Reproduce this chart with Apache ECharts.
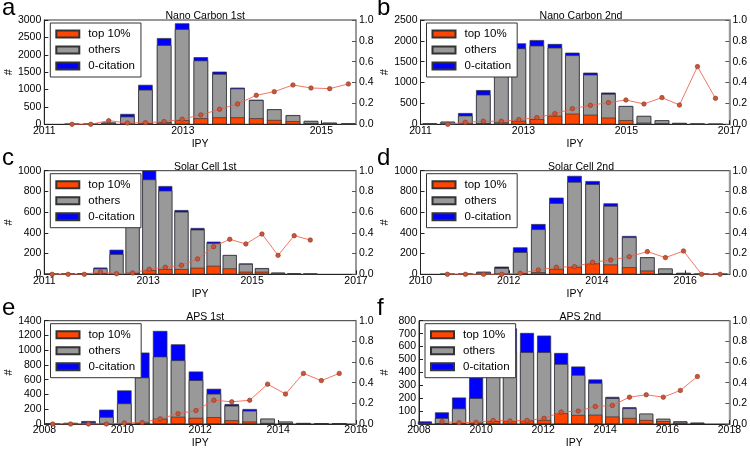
<!DOCTYPE html>
<html><head><meta charset="utf-8">
<script src="https://cdn.jsdelivr.net/npm/echarts@6/dist/echarts.min.js"></script>
<style>html,body{margin:0;padding:0;background:#fff}#c{width:750px;height:450px}</style>
</head><body><div id="c"></div>
<script>
// ---------- DATA ----------
const seriesNames = ['top 10%', 'others', '0-citation'];

// a: Nano Carbon 1st
const aX      = [2011.40, 2011.67, 2011.93, 2012.20, 2012.46, 2012.73, 2012.99, 2013.26, 2013.53, 2013.79, 2014.06, 2014.32, 2014.59, 2014.85, 2015.12, 2015.39];
const aTop    = [0, 0, 2, 3, 15, 60, 120, 175, 200, 200, 175, 125, 90, 35, 12, 5];
const aOthers = [0, 2, 45, 220, 980, 2220, 2620, 1660, 1250, 830, 520, 305, 170, 60, 33, 12];
const aZero   = [0, 0, 5, 75, 140, 200, 165, 95, 65, 25, 12, 5, 5, 3, 2, 1];
const aRatio  = [0, 0, 0.035, 0.013, 0.016, 0.026, 0.048, 0.09, 0.144, 0.195, 0.278, 0.313, 0.377, 0.348, 0.342, 0.387];
const aXTicks = [2011, 2013, 2015];

// b: Nano Carbon 2nd
const bX      = [2011.18, 2011.53, 2011.87, 2012.22, 2012.57, 2012.91, 2013.26, 2013.61, 2013.95, 2014.30, 2014.65, 2014.99, 2015.34, 2015.69, 2016.03, 2016.38, 2016.73];
const bTop    = [0, 2, 8, 25, 45, 85, 125, 205, 255, 230, 160, 100, 40, 20, 5, 3, 0];
const bOthers = [14, 58, 200, 685, 1280, 1735, 1760, 1630, 1400, 960, 570, 335, 160, 76, 27, 5, 1];
const bZero   = [1, 3, 62, 110, 75, 120, 135, 90, 62, 48, 30, 5, 0, 0, 0, 0, 0];
const bRatio  = [null, 0, 0.019, 0.029, 0.029, 0.045, 0.064, 0.102, 0.15, 0.182, 0.208, 0.233, 0.195, 0.256, 0.185, 0.553, 0.249];
const bXTicks = [2011, 2013, 2015, 2017];

// c: Solar Cell 1st
const cX      = [2011.15, 2011.46, 2011.77, 2012.08, 2012.39, 2012.70, 2013.02, 2013.33, 2013.64, 2013.95, 2014.26, 2014.57, 2014.88, 2015.19, 2015.50, 2015.81, 2016.12];
const cTop    = [0, 0, 1, 2, 3, 15, 41, 51, 51, 63, 82, 57, 25, 25, 3, 2, 1];
const cOthers = [1, 3, 6, 54, 192, 735, 875, 756, 553, 368, 220, 129, 75, 32, 13, 4, 2];
const cZero   = [0, 0, 1, 9, 42, 50, 84, 45, 16, 16, 13, 0, 5, 3, 0, 0, 0];
const cRatio  = [0, 0, 0, 0.023, 0.006, 0.013, 0.048, 0.068, 0.087, 0.148, 0.267, 0.338, 0.293, 0.389, 0.183, 0.373, 0.331];
const cXTicks = [2011, 2013, 2015, 2017];

// d: Solar Cell 2nd
const dX      = [2010.61, 2011.02, 2011.43, 2011.84, 2012.26, 2012.67, 2013.08, 2013.49, 2013.90, 2014.31, 2014.73, 2015.14, 2015.55, 2015.96, 2016.37, 2016.79];
const dTop    = [0, 0, 1, 1, 4, 20, 52, 72, 105, 95, 68, 36, 9, 3, 0, 0];
const dOthers = [0, 1, 21, 60, 210, 415, 635, 820, 765, 565, 290, 127, 46, 10, 1, 0];
const dZero   = [0, 0, 3, 13, 46, 50, 53, 58, 30, 25, 12, 2, 0, 0, 0, 0];
const dRatio  = [0, 0, 0, 0, 0.01, 0.042, 0.068, 0.074, 0.116, 0.138, 0.17, 0.219, 0.161, 0.225, 0, 0];
const dXTicks = [2010, 2012, 2014, 2016];

// e: APS 1st
const eX      = [2008.21, 2008.67, 2009.13, 2009.59, 2010.05, 2010.51, 2010.97, 2011.43, 2011.89, 2012.35, 2012.81, 2013.27, 2013.73, 2014.19, 2014.65, 2015.11, 2015.57];
const eTop    = [0, 0, 0, 2, 5, 20, 72, 98, 84, 93, 51, 33, 14, 7, 4, 2, 1];
const eOthers = [0, 13, 22, 93, 274, 610, 842, 766, 510, 317, 197, 147, 58, 25, 8, 6, 3];
const eZero   = [0, 2, 18, 99, 176, 338, 347, 216, 117, 67, 22, 23, 0, 0, 2, 0, 0];
const eRatio  = [0, 0, 0, 0, 0.01, 0.014, 0.05, 0.1, 0.13, 0.23, 0.215, 0.23, 0.386, 0.29, 0.49, 0.42, 0.49];
const eXTicks = [2008, 2010, 2012, 2014, 2016];

// f: APS 2nd
const fX      = [2008.19, 2008.74, 2009.29, 2009.84, 2010.39, 2010.93, 2011.48, 2012.03, 2012.58, 2013.13, 2013.68, 2014.23, 2014.78, 2015.32, 2015.87, 2016.42, 2016.97];
const fTop    = [2, 2, 3, 11, 22, 22, 28, 31, 83, 70, 72, 58, 47, 31, 22, 11, 5];
const fOthers = [8, 44, 117, 189, 438, 534, 528, 525, 382, 310, 246, 142, 75, 49, 18, 9, 5];
const fZero   = [10, 44, 85, 160, 230, 184, 149, 129, 85, 65, 27, 10, 8, 0, 0, 0, 0];
const fRatio  = [null, 0.023, 0.013, 0.016, 0.035, 0.029, 0.035, 0.055, 0.116, 0.125, 0.17, 0.18, 0.26, 0.283, 0.26, 0.325, 0.46];
const fXTicks = [2008, 2010, 2012, 2014, 2016, 2018];

// ---------- LAYOUT ----------
const FONT = '"Liberation Sans", Arial, sans-serif';
const panels = [
  {letter:'a', title:'Nano Carbon 1st', x:aX, top:aTop, others:aOthers, zero:aZero, ratio:aRatio, xt:aXTicks, xMin:2011, xMax:2015.5, yMax:3000, yStep:500,
   L:44.3, T:20, W:311.7, H:104.3, bw:14.5},
  {letter:'b', title:'Nano Carbon 2nd', x:bX, top:bTop, others:bOthers, zero:bZero, ratio:bRatio, xt:bXTicks, xMin:2011, xMax:2017, yMax:2500, yStep:500,
   L:420.5, T:20, W:311, H:104.3, bw:14.5},
  {letter:'c', title:'Solar Cell 1st', x:cX, top:cTop, others:cOthers, zero:cZero, ratio:cRatio, xt:cXTicks, xMin:2011, xMax:2017, yMax:1000, yStep:200,
   L:44.3, T:170.7, W:311.7, H:103.6, bw:14},
  {letter:'d', title:'Solar Cell 2nd', x:dX, top:dTop, others:dOthers, zero:dZero, ratio:dRatio, xt:dXTicks, xMin:2010, xMax:2017, yMax:1000, yStep:200,
   L:420.5, T:170.7, W:311, H:103.6, bw:14.5},
  {letter:'e', title:'APS 1st', x:eX, top:eTop, others:eOthers, zero:eZero, ratio:eRatio, xt:eXTicks, xMin:2008, xMax:2016, yMax:1400, yStep:200,
   L:44.5, T:320.7, W:311.5, H:103.6, bw:14.5},
  {letter:'f', title:'APS 2nd', x:fX, top:fTop, others:fOthers, zero:fZero, ratio:fRatio, xt:fXTicks, xMin:2008, xMax:2018, yMax:800, yStep:100,
   L:419, T:320.7, W:312.5, H:103.6, bw:14}
];

const colors = ['#ff4500', '#999999', '#0000ff'];
const grid = [], xAxis = [], yAxis = [], series = [], legend = [], title = [], graphic = [];
const lbl = {fontFamily: FONT, fontSize: 10.5, color: '#000'};

panels.forEach((p, i) => {
  grid.push({left: p.L, top: p.T, width: p.W, height: p.H, show: true, borderColor: '#333', borderWidth: 1, backgroundColor: 'transparent'});
  xAxis.push({type: 'value', gridIndex: i, min: p.xMin, max: p.xMax,
    name: 'IPY', nameLocation: 'middle', nameGap: 14, nameTextStyle: {fontFamily: FONT, fontSize: 10.5, color: '#000'},
    axisLine: {show: true, onZero: false, lineStyle: {color: '#222', width: 1}},
    axisTick: {show: true, inside: true, length: 4, customValues: p.xt, lineStyle: {color: '#222'}},
    axisLabel: Object.assign({customValues: p.xt, margin: 1, formatter: v => String(v)}, lbl),
    splitLine: {show: false}});
  yAxis.push({type: 'value', gridIndex: i, min: 0, max: p.yMax, interval: p.yStep, position: 'left',
    name: '#', nameLocation: 'middle', nameGap: 29, nameRotate: 90, nameTextStyle: {fontFamily: FONT, fontSize: 11, color: '#000'},
    axisLine: {show: true, lineStyle: {color: '#222', width: 1}},
    axisTick: {show: true, inside: true, length: 4, lineStyle: {color: '#222'}},
    axisLabel: Object.assign({margin: 3, formatter: v => String(v)}, lbl),
    splitLine: {show: false}});
  yAxis.push({type: 'value', gridIndex: i, min: 0, max: 1, interval: 0.2, position: 'right',
    axisLine: {show: true, lineStyle: {color: '#9a9a9a', width: 2}},
    axisTick: {show: true, inside: true, length: 4, lineStyle: {color: '#555'}},
    axisLabel: Object.assign({margin: 3, formatter: v => v.toFixed(1)}, lbl),
    splitLine: {show: false}});
  // cumulative heights for the stacked look (drawn back to front, overlapping)
  const lvl1 = p.top;
  const lvl2 = p.top.map((v, j) => v + p.others[j]);
  const lvl3 = lvl2.map((v, j) => v + p.zero[j]);
  const levels = [lvl1, lvl2, lvl3];
  [2, 1, 0].forEach(k => {
    series.push({type: 'bar', name: seriesNames[k], xAxisIndex: i, yAxisIndex: 2 * i,
      barWidth: p.bw, barGap: '-100%', data: p.x.map((v, j) => [v, levels[k][j]]),
      itemStyle: {color: colors[k], borderColor: '#333', borderWidth: 0.7},
      z: 2 + (2 - k) * 0.1, emphasis: {disabled: true}, animation: false});
  });
  const pts = [];
  p.x.forEach((v, j) => { if (p.ratio[j] !== null) pts.push([v, p.ratio[j]]); });
  series.push({type: 'line', name: 'ratio', xAxisIndex: i, yAxisIndex: 2 * i + 1, data: pts,
    symbol: 'circle', symbolSize: 4.5, showAllSymbol: true,
    lineStyle: {color: 'rgba(238,95,70,0.85)', width: 1},
    itemStyle: {color: '#c9563a', borderColor: '#8c3522', borderWidth: 0.6},
    z: 5, animation: false, emphasis: {disabled: true}});
  legend.push({data: seriesNames, orient: 'vertical', left: p.L + 6, top: p.T + 3,
    itemWidth: 23, itemHeight: 7, itemGap: 4, icon: 'rect',
    padding: [5, 6, 5, 5], borderColor: '#333', borderWidth: 1, backgroundColor: '#fff',
    textStyle: {fontFamily: FONT, fontSize: 11.5, color: '#000', padding: [0, 0, 0, 4]},
    selectedMode: false, z: 10});
  title.push({text: p.title, left: p.L + p.W / 2, top: p.T - 14, textAlign: 'center',
    textStyle: {fontFamily: FONT, fontSize: 10.5, fontWeight: 'normal', color: '#000'}});
  graphic.push({type: 'text', x: (i % 2 === 0) ? 2 : 377, y: p.T - 12,
    style: {text: p.letter, font: '24px "Liberation Sans", Arial, sans-serif', fill: '#000', verticalAlign: 'middle', align: 'left'}});
});

const chart = echarts.init(document.getElementById('c'), null, {renderer: 'canvas'});
chart.setOption({animation: false, backgroundColor: '#fff', grid, xAxis, yAxis, series, legend, title, graphic, tooltip: {show: false}});
</script></body></html>
